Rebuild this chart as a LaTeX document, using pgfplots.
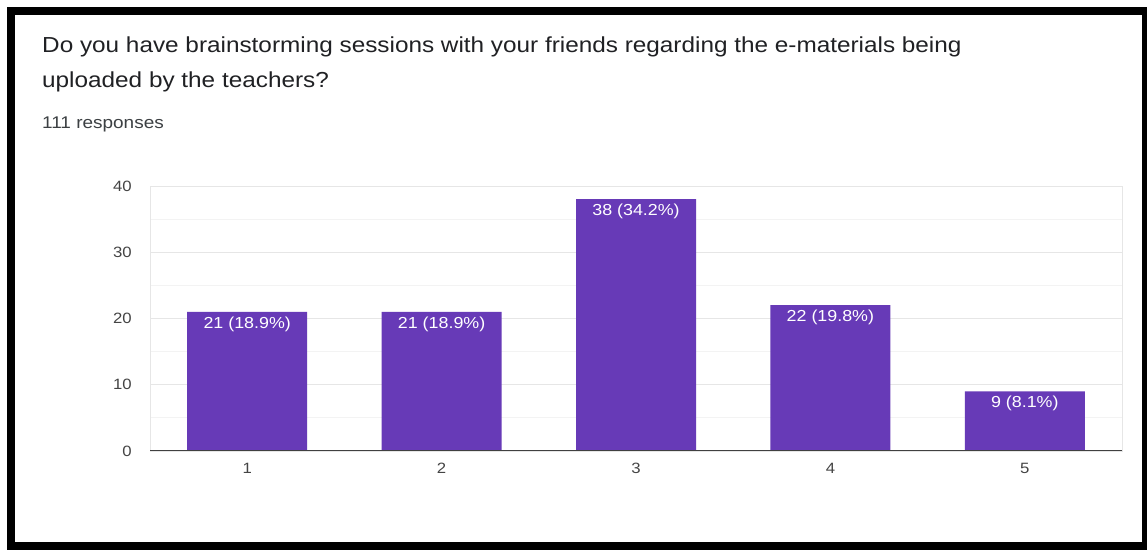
\documentclass[border=0pt]{standalone}
\usepackage{pgfplots}
\pgfplotsset{compat=1.18}
\usepackage{fontspec}
\setmainfont{Liberation Sans}[FakeStretch=1.12]
\definecolor{barpurple}{HTML}{673AB7}
\definecolor{titlecol}{HTML}{202124}
\definecolor{subcol}{HTML}{3C4043}
\definecolor{tickcol}{HTML}{444444}
\definecolor{gridmaj}{HTML}{E6E6E6}
\definecolor{gridmin}{HTML}{F3F3F3}
\begin{document}
\begin{tikzpicture}[x=1bp,y=1bp]
\useasboundingbox (0,0) rectangle (1147,550);
\fill[white] (0,0) rectangle (1147,550);
\node[anchor=base west, inner sep=0pt, text=titlecol, font=\fontsize{21.8}{24}\selectfont] at (42,550-53) {Do you have brainstorming sessions with your friends regarding the e-materials being};
\node[anchor=base west, inner sep=0pt, text=titlecol, font=\fontsize{21.8}{24}\selectfont] at (42,550-88) {uploaded by the teachers?};
\node[anchor=base west, inner sep=0pt, text=subcol, font=\fontsize{17}{20}\selectfont] at (42,550-129) {111 responses};
\begin{axis}[
  at={(150bp,99bp)}, anchor=south west,
  scale only axis, width=972bp, height=265bp,
  xmin=0.5, xmax=5.5, ymin=0, ymax=40,
  xtick={1,2,3,4,5}, xticklabels={1,2,3,4,5},
  ytick={0,10,20,30,40},
  minor y tick num=1,
  ymajorgrids, yminorgrids,
  major grid style={gridmaj, line width=0.8bp},
  minor grid style={gridmin, line width=0.8bp},
  axis line style={gridmaj, line width=0.8bp},
  major tick length=0pt, minor tick length=0pt,
  tick label style={text=tickcol, font=\fontsize{15}{18}\selectfont},
  yticklabel style={inner sep=0pt, anchor=east, xshift=-18bp},
  xticklabel style={inner sep=0pt, anchor=north, yshift=-12bp},
  /pgf/number format/assume math mode=true,
  ybar, bar width=120bp,
  nodes near coords,
  point meta=explicit symbolic,
  every node near coord/.append style={anchor=north, inner sep=0pt, yshift=-4.5bp, text=white, font=\fontsize{16}{19}\selectfont},
]
\addplot[fill=barpurple, draw=none] coordinates {
  (1,21) [21 (18.9\%)]
  (2,21) [21 (18.9\%)]
  (3,38) [38 (34.2\%)]
  (4,22) [22 (19.8\%)]
  (5,9) [9 (8.1\%)]
};
\draw[color=black!75, line width=1.4bp] (axis cs:0.5,0) -- (axis cs:5.5,0);
\end{axis}
\draw[line width=8bp] (11,4) rectangle (1146,539);
\end{tikzpicture}
\end{document}
